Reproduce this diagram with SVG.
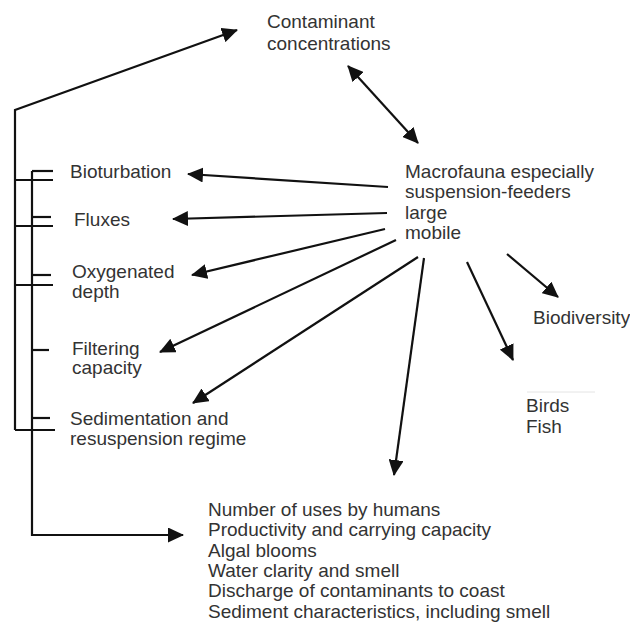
<svg xmlns="http://www.w3.org/2000/svg" width="630" height="622" viewBox="0 0 630 622">
<style>
text{font-family:"Liberation Sans",Arial,sans-serif;font-size:19px;fill:#333}
.ln{stroke:#111;stroke-width:2.2;fill:none}
.ar{stroke:#111;stroke-width:2.2;fill:none;marker-end:url(#ah)}
</style>
<defs>
<marker id="ah" markerUnits="userSpaceOnUse" markerWidth="17" markerHeight="15" refX="15" refY="7.5" orient="auto-start-reverse" viewBox="0 0 17 15">
<path d="M0,0 L16,7.5 L0,15 z" fill="#111"/>
</marker>
</defs>
<rect width="630" height="622" fill="#fff"/>
<g id="connectors">
<path class="ar" d="M15,430 L15,110 L237,30"/>
<path class="ar" d="M32,171 L32,535 L183,535"/>
<g class="ln">
<line x1="32" y1="171" x2="53" y2="171"/>
<line x1="15" y1="180" x2="53" y2="180"/>
<line x1="32" y1="217" x2="51" y2="217"/>
<line x1="15" y1="226" x2="53" y2="226"/>
<line x1="32" y1="275" x2="51" y2="275"/>
<line x1="15" y1="285" x2="53" y2="285"/>
<line x1="32" y1="350" x2="49" y2="350"/>
<line x1="32" y1="418" x2="50" y2="418"/>
<line x1="15" y1="430" x2="55" y2="430"/>
</g>
<line class="ar" x1="348" y1="66" x2="418" y2="143" marker-start="url(#ah)"/>
<line class="ar" x1="388" y1="187" x2="188" y2="174"/>
<line class="ar" x1="387" y1="213" x2="173" y2="219"/>
<line class="ar" x1="385" y1="229" x2="192" y2="275"/>
<line class="ar" x1="396" y1="240" x2="160" y2="352"/>
<line class="ar" x1="418" y1="257" x2="193" y2="403"/>
<line class="ar" x1="424" y1="258" x2="394" y2="475"/>
<line class="ar" x1="467" y1="262" x2="513" y2="360"/>
<line class="ar" x1="507" y1="254" x2="558" y2="297"/>
<line x1="527" y1="392" x2="595" y2="392" stroke="#e4e4e4" stroke-width="1"/>
</g>
<g id="contaminant"><text x="267" y="28">Contaminant</text><text x="267" y="50">concentrations</text></g>
<g id="macrofauna"><text x="405" y="178">Macrofauna especially</text><text x="405" y="198">suspension-feeders</text><text x="405" y="219">large</text><text x="405" y="239">mobile</text></g>
<g id="bioturbation"><text x="70" y="178">Bioturbation</text></g>
<g id="fluxes"><text x="74" y="226">Fluxes</text></g>
<g id="oxygenated"><text x="72" y="278">Oxygenated</text><text x="72" y="297.5">depth</text></g>
<g id="filtering"><text x="72" y="355">Filtering</text><text x="72" y="374">capacity</text></g>
<g id="sedimentation"><text x="70" y="425">Sedimentation and</text><text x="70" y="445">resuspension regime</text></g>
<g id="biodiversity"><text x="533" y="324">Biodiversity</text></g>
<g id="birdsfish"><text x="526" y="412">Birds</text><text x="526" y="433">Fish</text></g>
<g id="uses"><text x="208" y="516">Number of uses by humans</text><text x="208" y="536">Productivity and carrying capacity</text><text x="208" y="557">Algal blooms</text><text x="208" y="577">Water clarity and smell</text><text x="208" y="597">Discharge of contaminants to coast</text><text x="208" y="618">Sediment characteristics, including smell</text></g>
</svg>
